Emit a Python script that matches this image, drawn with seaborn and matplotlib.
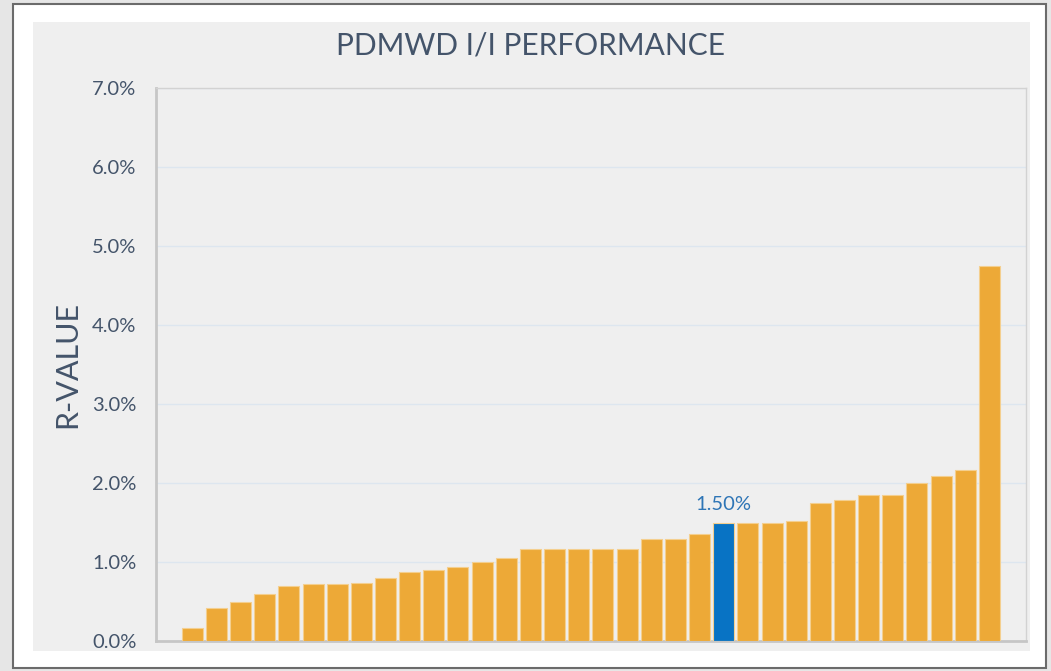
import pandas as pd
import seaborn as sns
import matplotlib.pyplot as plt
from matplotlib.patches import Rectangle
from matplotlib.ticker import PercentFormatter

# R-values, sorted low to high (percent)
r_values = [0.17, 0.42, 0.50, 0.60, 0.70, 0.72, 0.72, 0.74, 0.80, 0.87,
            0.90, 0.94, 1.00, 1.05, 1.17, 1.17, 1.17, 1.17, 1.17, 1.29,
            1.29, 1.36, 1.50, 1.50, 1.50, 1.52, 1.75, 1.79, 1.85, 1.85,
            2.00, 2.09, 2.16, 4.75]
highlight_index = 22          # the PDMWD bar (blue)
highlight_label = "1.50%"
y_ticks = [0, 1, 2, 3, 4, 5, 6, 7]

df = pd.DataFrame({
    "agency": [str(i + 1) for i in range(len(r_values))],
    "r_value": r_values,
})
df["group"] = ["PDMWD" if i == highlight_index else "other" for i in range(len(df))]

orange = "#EDA937"
blue = "#0873C4"
text_col = "#44546A"

sns.set_style("white")
plt.rcParams["font.family"] = ["Lato", "DejaVu Sans"]

fig = plt.figure(figsize=(10.51, 6.71), dpi=100, facecolor="white")

# outer panel + grey chart area
W, H = 1051, 671
fig.patches.append(Rectangle((0, 0), 1, 1, transform=fig.transFigure,
                             facecolor="#e6e6e6", edgecolor="none", zorder=-3))
fig.patches.append(Rectangle((13 / W, 1 - 668 / H), (1046 - 13) / W, (668 - 4) / H,
                             transform=fig.transFigure, facecolor="white",
                             edgecolor="#6b6b6b", linewidth=1.5, zorder=-2))
fig.patches.append(Rectangle((33 / W, 1 - 651 / H), (1030 - 33) / W, (651 - 22) / H,
                             transform=fig.transFigure, facecolor="#EFEFEF",
                             edgecolor="none", zorder=-1))

ax = fig.add_axes([156 / W, 1 - 641 / H, (1025.7 - 156) / W, (641 - 88) / H])
ax.set_facecolor("#EFEFEF")

sns.barplot(data=df, x="agency", y="r_value", hue="group",
            palette={"other": orange, "PDMWD": blue}, dodge=False,
            saturation=1, width=0.87, edgecolor="#F4CF8F", linewidth=0.8,
            legend=False, ax=ax, zorder=3)

ax.set_xlim(-1.5, len(r_values) + 0.5)
ax.set_ylim(0, 7)
ax.set_yticks(y_ticks)
ax.yaxis.set_major_formatter(PercentFormatter(decimals=1))
ax.tick_params(axis="y", length=0, pad=14, labelsize=14.5, labelcolor=text_col)
ax.set_xticks([])
ax.set_xlabel("")
ax.set_ylabel("R-VALUE", fontsize=22, color=text_col, labelpad=8)
ax.grid(axis="y", color="#DDE6EF", linewidth=1, zorder=0)

for side in ["top", "right"]:
    ax.spines[side].set_color("#D2D2D2")
    ax.spines[side].set_linewidth(1)
for side in ["left", "bottom"]:
    ax.spines[side].set_color("#C6C6C6")
    ax.spines[side].set_linewidth(2)

ax.text(highlight_index, r_values[highlight_index] + 0.12, highlight_label,
        ha="center", va="bottom", color="#2E75B6", fontsize=14.5)

fig.text(531 / W, 1 - 45 / H, "PDMWD I/I PERFORMANCE", ha="center", va="center",
         fontsize=21.5, color=text_col)

fig.savefig("out.png", dpi=100)
